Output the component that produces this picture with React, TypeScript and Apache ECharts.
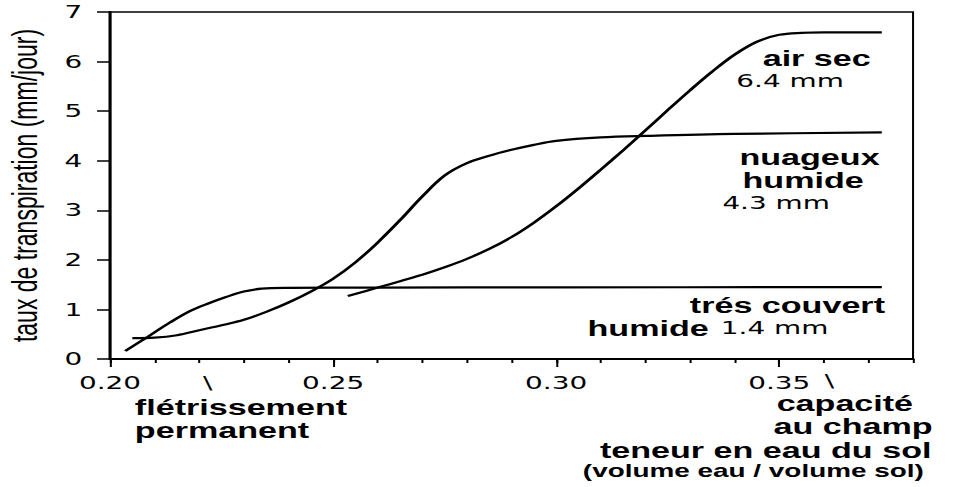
import React, { useEffect, useRef } from "react";
import * as echarts from "echarts";

// The reference picture is horizontally stretched; the chart is drawn at a
// narrower width and stretched by the same factor with a CSS transform.
const INNER_WIDTH = 618;
const STRETCH = 958 / INNER_WIDTH;

const xLabelValues = [0.2, 0.25, 0.3, 0.35];

// teneur en eau du sol (x)  vs  taux de transpiration mm/jour (y)
const airSec: [number, number][] = [
  [0.2533, 1.27], [0.26, 1.44], [0.265, 1.57], [0.27, 1.7], [0.275, 1.85],
  [0.28, 2.02], [0.285, 2.22], [0.29, 2.46], [0.295, 2.75], [0.3, 3.08],
  [0.305, 3.44], [0.31, 3.82], [0.315, 4.21], [0.32, 4.61], [0.325, 5.02],
  [0.33, 5.42], [0.335, 5.8], [0.34, 6.14], [0.345, 6.4], [0.35, 6.54],
  [0.355, 6.58], [0.36, 6.59], [0.373, 6.59],
];

const nuageuxHumide: [number, number][] = [
  [0.205, 0.42], [0.21, 0.43], [0.215, 0.48], [0.22, 0.58], [0.225, 0.68],
  [0.23, 0.79], [0.235, 0.95], [0.24, 1.14], [0.245, 1.36], [0.25, 1.62],
  [0.255, 1.95], [0.26, 2.35], [0.265, 2.8], [0.27, 3.28], [0.275, 3.7],
  [0.28, 3.95], [0.285, 4.1], [0.29, 4.22], [0.295, 4.32], [0.3, 4.4],
  [0.31, 4.47], [0.32, 4.5], [0.34, 4.54], [0.373, 4.57],
];

const tresCouvertHumide: [number, number][] = [
  [0.2034, 0.16], [0.2085, 0.45], [0.2135, 0.74], [0.218, 0.97],
  [0.222, 1.12], [0.226, 1.25], [0.23, 1.36], [0.234, 1.42],
  [0.24, 1.435], [0.26, 1.44], [0.3, 1.445], [0.373, 1.45],
];

type Note = { text: string; x: number; y: number; bold: boolean; size?: number; align?: string };

const notes: Note[] = [
  { text: "air sec", x: 492, y: 58, bold: true },
  { text: "6.4 mm", x: 475, y: 81, bold: false },
  { text: "nuageux", x: 477, y: 157, bold: true },
  { text: "humide", x: 479, y: 180, bold: true },
  { text: "4.3 mm", x: 466, y: 203, bold: false },
  { text: "trés couvert", x: 445, y: 305, bold: true },
  { text: "humide", x: 379, y: 328, bold: true },
  { text: "1.4 mm", x: 465, y: 328, bold: false },
  { text: "flétrissement", x: 87, y: 407, bold: true },
  { text: "permanent", x: 87, y: 430, bold: true },
  { text: "capacité", x: 501, y: 403, bold: true },
  { text: "au champ", x: 499, y: 426, bold: true },
  { text: "teneur en eau du sol", x: 387, y: 450, bold: true },
  { text: "(volume eau / volume sol)", x: 376, y: 471, bold: true, size: 18 },
  { text: "\\", x: 134, y: 383, bold: false, align: "center" },
  { text: "\\", x: 535, y: 381, bold: false, align: "center" },
];

export default function App() {
  const ref = useRef<HTMLDivElement>(null);
  useEffect(() => {
    if (!ref.current) return;
    const chart = echarts.init(ref.current, null, { renderer: "svg" });
    const lineSeries = (name: string, data: [number, number][]) => ({
      name,
      type: "line",
      xAxisIndex: 0,
      yAxisIndex: 0,
      data,
      showSymbol: false,
      symbol: "none",
      smooth: 0.35,
      lineStyle: { color: "#000", width: 2.2 },
      emphasis: { disabled: true },
    });
    chart.setOption({
      animation: false,
      backgroundColor: "#fff",
      textStyle: { fontFamily: "DejaVu Sans", color: "#000" },
      grid: {
        left: 71,
        top: 12,
        width: 518,
        height: 347,
        containLabel: false,
        outerBoundsMode: "none",
        show: true,
        borderColor: "#000",
        borderWidth: 1.3,
        backgroundColor: "transparent",
      },
      xAxis: [
        {
          type: "value",
          min: 0.2,
          max: 0.38,
          interval: 0.01,
          position: "bottom",
          axisLine: { show: true, onZero: false, lineStyle: { color: "#000", width: 2 } },
          axisTick: { show: true, length: 4, lineStyle: { color: "#000", width: 1.3 } },
          axisLabel: { show: false },
          splitLine: { show: false },
        },
        {
          type: "value",
          min: 0.2,
          max: 0.38,
          position: "bottom",
          axisLine: { show: false, onZero: false },
          axisTick: {
            show: true,
            length: 8,
            customValues: xLabelValues,
            lineStyle: { color: "#000", width: 1.3 },
          },
          axisLabel: {
            show: true,
            customValues: xLabelValues,
            formatter: (v: number) => v.toFixed(2),
            margin: 16,
            fontSize: 18,
            lineHeight: 16,
            fontFamily: "DejaVu Sans",
            color: "#000",
          },
          splitLine: { show: false },
        },
      ],
      yAxis: {
        type: "value",
        min: 0,
        max: 7,
        interval: 1,
        name: "taux de transpiration (mm/jour)",
        nameLocation: "middle",
        nameGap: 44,
        nameRotate: 90,
        nameTextStyle: { fontFamily: "Liberation Sans", fontSize: 23, color: "#000" },
        axisLine: { show: true, onZero: false, lineStyle: { color: "#000", width: 2 } },
        axisTick: { show: true, length: 8.4, lineStyle: { color: "#000", width: 1.5 } },
        axisLabel: { margin: 18, fontSize: 18, fontFamily: "DejaVu Sans", color: "#000" },
        splitLine: { show: false },
      },
      series: [
        lineSeries("air sec 6.4 mm", airSec),
        lineSeries("nuageux humide 4.3 mm", nuageuxHumide),
        lineSeries("trés couvert humide 1.4 mm", tresCouvertHumide),
      ],
      graphic: notes.map((n) => {
        const size = n.size ?? (n.bold ? 22 : 18);
        return {
          type: "text",
          x: n.x,
          y: n.y,
          silent: true,
          style: {
            text: n.text,
            fill: "#000",
            fontFamily: n.bold ? "Liberation Sans" : "DejaVu Sans",
            fontWeight: n.bold ? "bold" : "normal",
            fontSize: size,
            lineHeight: size - 3,
            align: n.align ?? "left",
            verticalAlign: "middle",
            textAlign: n.align ?? "left",
            textVerticalAlign: "middle",
          },
        };
      }),
    });
    return () => chart.dispose();
  }, []);
  return (
    <div
      ref={ref}
      style={{
        position: "absolute",
        left: 0,
        top: 0,
        width: INNER_WIDTH,
        height: 487,
        transform: `scaleX(${STRETCH})`,
        transformOrigin: "0 0",
        background: "#fff",
      }}
    />
  );
}
